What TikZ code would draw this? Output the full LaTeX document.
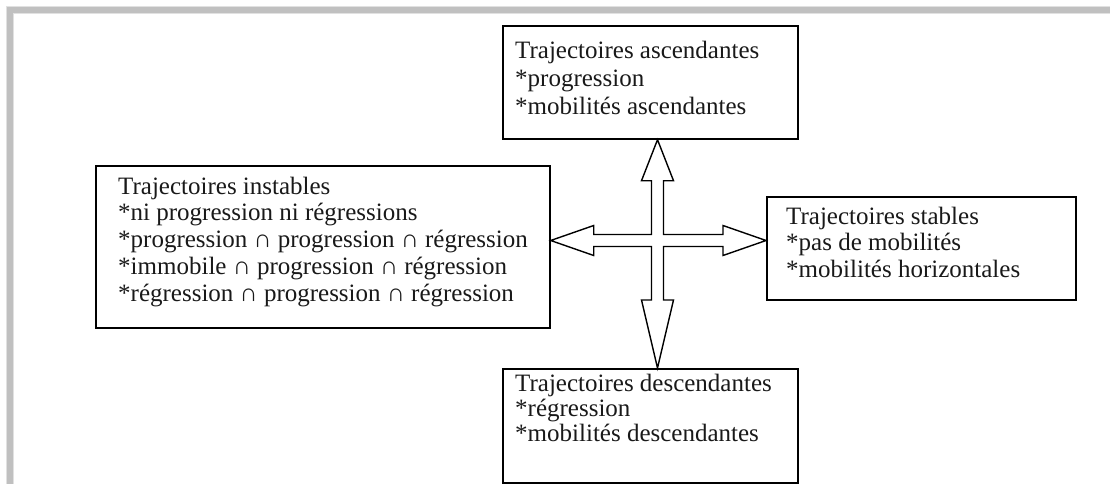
\documentclass[tikz,border=0pt]{standalone}
\usepackage{fontspec}
\setmainfont{Liberation Serif}
\usetikzlibrary{calc}
\definecolor{framegray}{RGB}{192,192,192}
\definecolor{frameedge}{RGB}{225,225,225}
\definecolor{txtcol}{RGB}{25,25,25}
\tikzset{
  box/.style={draw=black, line width=1.7pt, rectangle, inner sep=0pt, anchor=north west},
  txt/.style={anchor=base west, inner sep=0pt, text=txtcol, font=\fontsize{25}{29}\selectfont},
  crossline/.style={draw=black, line width=1.4pt, line join=miter, fill=white}
}
\begin{document}
\begin{tikzpicture}[x=1pt,y=-1pt]
\useasboundingbox (0,0) rectangle (1110,484);
% grey frame
\fill[frameedge] (6,6) rectangle (1110,14);
\fill[frameedge] (6,6) rectangle (14,484);
\fill[framegray] (7,7) rectangle (1110,13);
\fill[framegray] (7,7) rectangle (13,484);
% boxes
\node[box, minimum width=295pt, minimum height=113pt] (top) at (502,25) {};
\node[box, minimum width=454pt, minimum height=162pt] (left) at (95,165) {};
\node[box, minimum width=309pt, minimum height=103pt] (right) at (766,196) {};
\node[box, minimum width=295pt, minimum height=114pt] (bot) at (502,368) {};
% texts
\node[txt] (t1) at (515,59) {Trajectoires ascendantes};
\node[txt] (t2) at (515,87) {*progression};
\node[txt] (t3) at (515,115) {*mobilités ascendantes};
\node[txt] (l1) at (118,194) {Trajectoires instables};
\node[txt] (l2) at (118,220) {*ni progression ni régressions};
\node[txt] (l3) at (118,247) {*progression ∩ progression ∩ régression};
\node[txt] (l4) at (118,274) {*immobile ∩ progression ∩ régression};
\node[txt] (l5) at (118,301) {*régression ∩ progression ∩ régression};
\node[txt] (r1) at (786,224) {Trajectoires stables};
\node[txt] (r2) at (786,250) {*pas de mobilités};
\node[txt] (r3) at (786,277) {*mobilités horizontales};
\node[txt] (b1) at (515,391) {Trajectoires descendantes};
\node[txt] (b2) at (515,416) {*régression};
\node[txt] (b3) at (515,441) {*mobilités descendantes};
% cross arrows
\coordinate (c) at (657.5,240.5);
\coordinate (tu) at (c |- top.south);
\coordinate (td) at (c |- bot.north);
\coordinate (tl) at (left.east |- c);
\coordinate (tr) at (right.west |- c);
\draw[crossline] (tu) -- ++(16,41) -- ++(-10,0) -- ($(c)+(6,-6)$)
  -- ($(tr)+(-43,-6)$) -- ++(0,-9) -- (tr) -- ($(tr)+(-43,15)$) -- ++(0,-9)
  -- ($(c)+(6,6)$) -- ($(td)+(6,-68)$) -- ++(10,0) -- (td) -- ++(-16,-68) -- ++(10,0)
  -- ($(c)+(-6,6)$) -- ($(tl)+(43,6)$) -- ++(0,9) -- (tl) -- ++(43,-15) -- ++(0,9)
  -- ($(c)+(-6,-6)$) -- ($(tu)+(-6,41)$) -- ++(-10,0) -- cycle;
\end{tikzpicture}
\end{document}
